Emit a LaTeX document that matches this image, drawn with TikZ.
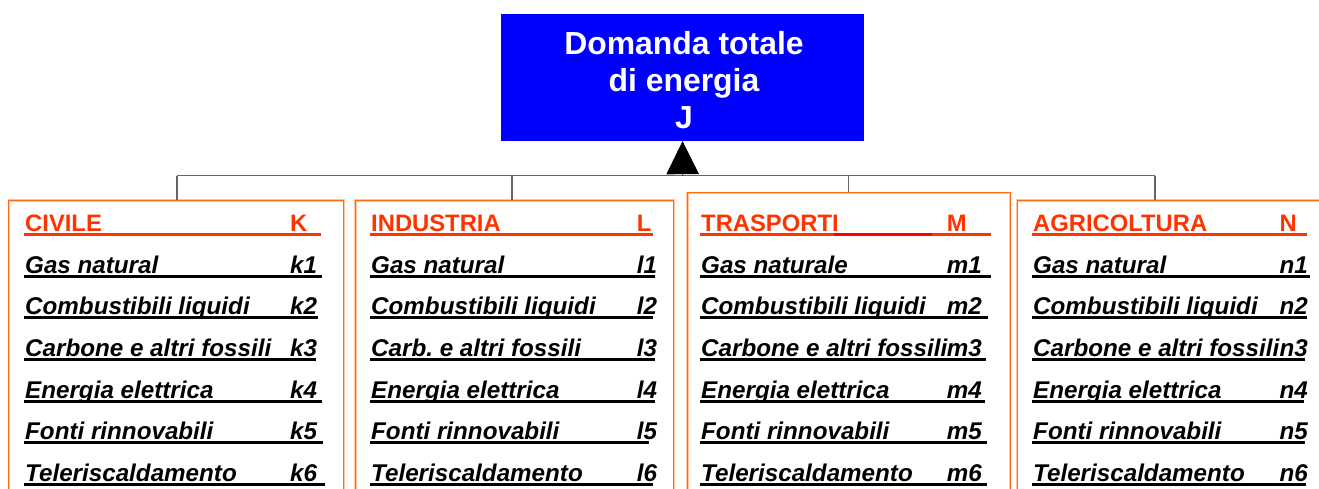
\documentclass[tikz,border=0pt]{standalone}
\usepackage{fontspec}
\setmainfont{Liberation Sans}
\usetikzlibrary{arrows.meta}
\definecolor{titleblue}{HTML}{0000FF}
\definecolor{hdr}{HTML}{FF3300}
\definecolor{hdrred}{HTML}{FF0000}
\definecolor{boxor}{HTML}{FF6A13}
\definecolor{boxlt}{HTML}{FFC49A}
\definecolor{wirec}{HTML}{666666}
\frenchspacing
% #1 name, #2 text x, #3 baseline y, #4 text, #5 code x, #6 code, #7 underline right end
\newcommand\rowentry[7]{%
  \node[rowtxt] (#1) at (#2,#3) {#4};
  \node[rowtxt] (#1c) at (#5,#3) {#6};
  \draw[ul] ({#2-1},{#3+3}) -- (#7,{#3+3});}
\newcommand\hdrentry[7]{%
  \node[hdrtxt] (#1) at (#2,#3) {#4};
  \node[hdrtxt] (#1c) at (#5,#3) {#6};
  \draw[hul] ({#2-1},{#3+3.2}) -- (#7,{#3+3.2});}
\begin{document}
\begin{tikzpicture}[x=1pt,y=-1pt,
  catbox/.style={draw=boxor, line width=1pt, preaction={draw=boxlt, line width=2.6pt},
    anchor=north west, inner sep=0pt, minimum height=400pt},
  rowtxt/.style={font=\fontsize{24.2}{28}\selectfont\bfseries\itshape, inner sep=0pt, anchor=base west},
  hdrtxt/.style={font=\fontsize{23.8}{28}\selectfont\bfseries, text=hdr, inner sep=0pt, anchor=base west},
  ul/.style={draw=black, line width=3pt},
  hul/.style={draw=hdr, line width=3pt},
  wire/.style={draw=wirec, line width=1.4pt},
  titlebox/.style={fill=titleblue, minimum width=363pt, minimum height=127pt, inner sep=0pt},
  titletext/.style={text=white, font=\fontsize{31.9}{37}\selectfont\bfseries, align=center, inner sep=0pt}]
\useasboundingbox (0,0) rectangle (1319,488);
\clip (0,0) rectangle (1319,488);

% top box
\node[titlebox] (top) at (682.5,77.5) {};
\node[titletext] (toptext) at ([xshift=1.5pt,yshift=-2.5pt]top.center) {Domanda totale\\di energia\\J};

% category boxes
\node[catbox, minimum width=335pt] (civ) at (8.3,200) {};
\node[catbox, minimum width=318.3pt] (ind) at (355,200) {};
\node[catbox, minimum width=322.8pt] (tra) at (686.7,192.3) {};
\node[catbox, minimum width=340pt] (agr) at (1016.5,200) {};

% connectors
\coordinate (j1) at (177,175.5);
\coordinate (j2) at (512,175.5);
\coordinate (j3) at (848.7,175.5);
\coordinate (j4) at (1155,175.5);
\coordinate (jm) at (682.7,175.5);
\draw[wire] (j1) -- (j4);
\draw[wire] (j1) -- (j1 |- civ.north);
\draw[wire] (j2) -- (j2 |- ind.north);
\draw[wire] (j3) -- (j3 |- tra.north);
\draw[wire] (j4) -- (j4 |- agr.north);
\draw[line width=0.6pt, -{Triangle[length=33pt,width=32.5pt]}] (jm) -- (top.south);

% CIVILE
\hdrentry{c0}{25}{231.7}{CIVILE}{290}{K}{320.7}
\rowentry{c1}{25}{273.3}{Gas natural}{290}{k1}{321.7}
\rowentry{c2}{25}{314.9}{Combustibili liquidi}{290}{k2}{318.3}
\rowentry{c3}{25}{356.5}{Carbone e altri fossili}{290}{k3}{316}
\rowentry{c4}{25}{398.1}{Energia elettrica}{290}{k4}{321.7}
\rowentry{c5}{25}{439.7}{Fonti rinnovabili}{290}{k5}{322.7}
\rowentry{c6}{25}{481.3}{Teleriscaldamento}{290}{k6}{325}

% INDUSTRIA
\hdrentry{i0}{371}{231.7}{INDUSTRIA}{636.7}{L}{653.3}
\rowentry{i1}{371}{273.3}{Gas natural}{636.7}{l1}{655}
\rowentry{i2}{371}{314.9}{Combustibili liquidi}{636.7}{l2}{652.7}
\rowentry{i3}{371}{356.5}{Carb.\ e altri fossili}{636.7}{l3}{655}
\rowentry{i4}{371}{398.1}{Energia elettrica}{636.7}{l4}{655}
\rowentry{i5}{371}{439.7}{Fonti rinnovabili}{636.7}{l5}{649.3}
\rowentry{i6}{371}{481.3}{Teleriscaldamento}{636.7}{l6}{653.3}

% TRASPORTI
\hdrentry{t0}{701}{231.7}{TRASPORTI}{946.7}{M}{990.7}
\draw[draw=hdrred, line width=3pt] (834,234.9) -- (931.7,234.9);
\rowentry{t1}{701}{273.3}{Gas naturale}{946.7}{m1}{990.7}
\rowentry{t2}{701}{314.9}{Combustibili liquidi}{946.7}{m2}{988.3}
\rowentry{t3}{701}{356.5}{Carbone e altri fossili}{946.7}{m3}{986}
\rowentry{t4}{701}{398.1}{Energia elettrica}{946.7}{m4}{985}
\rowentry{t5}{701}{439.7}{Fonti rinnovabili}{946.7}{m5}{987.3}
\rowentry{t6}{701}{481.3}{Teleriscaldamento}{946.7}{m6}{986.7}

% AGRICOLTURA
\hdrentry{a0}{1033}{231.7}{AGRICOLTURA}{1279.3}{N}{1307.3}
\rowentry{a1}{1033}{273.3}{Gas natural}{1279.3}{n1}{1310}
\rowentry{a2}{1033}{314.9}{Combustibili liquidi}{1279.3}{n2}{1306.7}
\rowentry{a3}{1033}{356.5}{Carbone e altri fossili}{1279.3}{n3}{1305}
\rowentry{a4}{1033}{398.1}{Energia elettrica}{1279.3}{n4}{1304}
\rowentry{a5}{1033}{439.7}{Fonti rinnovabili}{1279.3}{n5}{1305}
\rowentry{a6}{1033}{481.3}{Teleriscaldamento}{1279.3}{n6}{1306}
\end{tikzpicture}
\end{document}
